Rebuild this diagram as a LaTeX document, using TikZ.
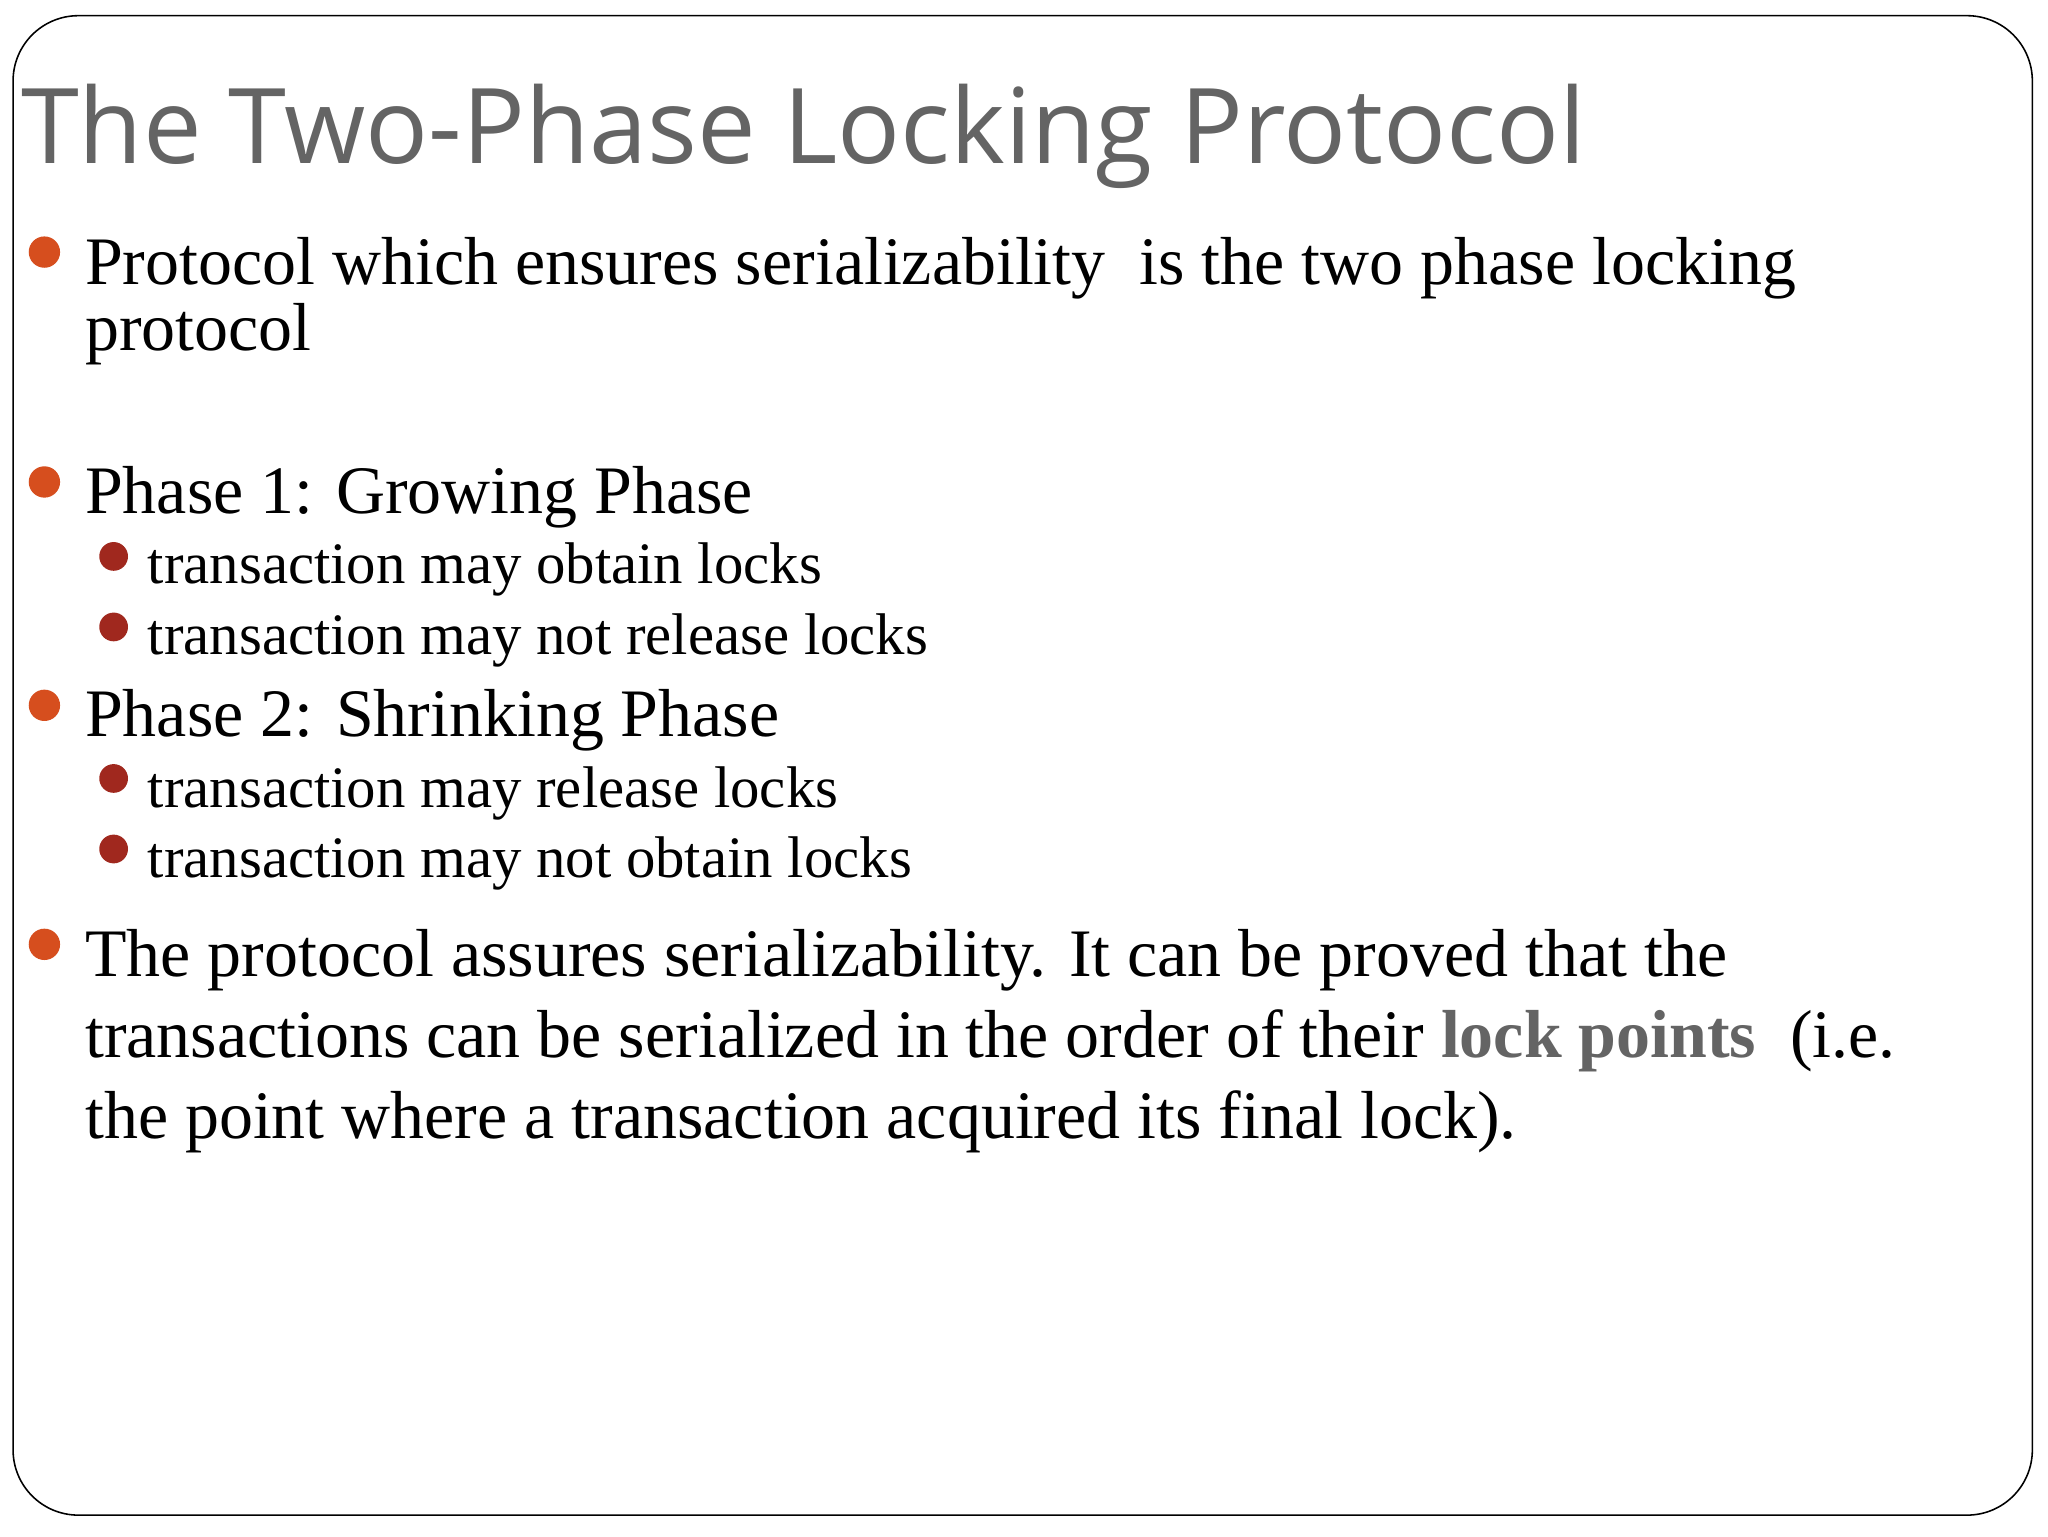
\documentclass[tikz,border=0pt]{standalone}
\usepackage{fontspec}
\setmainfont{Liberation Serif}
\newfontfamily\titlefont{Open Sans}
\definecolor{bulA}{RGB}{214,78,30}
\definecolor{bulB}{RGB}{160,40,30}
\definecolor{ttl}{RGB}{100,100,100}
\tikzset{x=1pt,y=-1pt,
 big/.style={anchor=base west,inner sep=0,font=\fontsize{52}{60}\selectfont},
 small/.style={anchor=base west,inner sep=0,font=\fontsize{45}{52}\selectfont},
 dotA/.style={fill=bulA,draw=none},
 dotB/.style={fill=bulB,draw=none}}
\begin{document}
\begin{tikzpicture}
\useasboundingbox (0,0) rectangle (1568,1176);
\draw[line width=1.2pt,rounded corners=50pt,fill=white] (10,12) rectangle (1556,1160);
\node[anchor=base west,inner sep=0,text=ttl,font=\titlefont\fontsize{80}{90}\selectfont] (title) at (16,125) {The Two-Phase Locking Protocol};
\fill[dotA] (34,193) circle (12);
\node[big] (l1) at (65,218) {Protocol which ensures serializability\ \ is the two phase locking};
\node[big] (l2) at (65,268) {protocol};
\fill[dotA] (34,369) circle (12);
\node[big] (p1) at (65,393) {Phase 1: Growing Phase};
\fill[dotB] (87,426) circle (11);
\node[small] (s1) at (113,447) {transaction may obtain locks};
\fill[dotB] (87,480) circle (11);
\node[small] (s2) at (113,501) {transaction may not release locks};
\fill[dotA] (34,540) circle (12);
\node[big] (p2) at (65,564) {Phase 2: Shrinking Phase};
\fill[dotB] (87,596) circle (11);
\node[small] (s3) at (113,618) {transaction may release locks};
\fill[dotB] (87,650) circle (11);
\node[small] (s4) at (113,672) {transaction may not obtain locks};
\fill[dotA] (34,723) circle (12);
\node[big] (q1) at (65,748) {The protocol assures serializability. It can be proved that the};
\node[big] (q2) at (65,810) {transactions can be serialized in the order of their \textbf{\textcolor{ttl}{lock points}}\ \ (i.e.};
\node[big] (q3) at (65,872) {the point where a transaction acquired its final lock).};
\end{tikzpicture}
\end{document}
